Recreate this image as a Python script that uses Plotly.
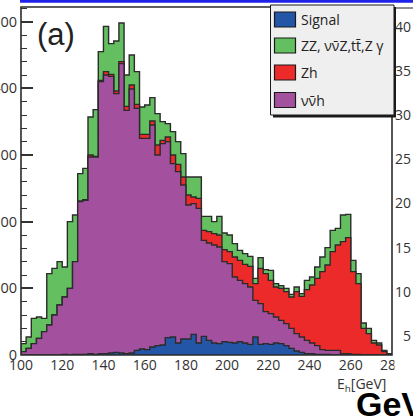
import numpy as np
import plotly.graph_objects as go

# ---------------- data (events per 2.5 GeV bin, E_h from 100 to 280 GeV) ----------------
bin_edges = np.arange(100.0, 280.0 + 1e-9, 2.5)

signal = [0, 0, 0, 0, 0, 0, 0, 0, 1, 0, 1, 1, 1, 2, 1, 2, 2, 3, 4, 3,
          2, 3, 7, 9, 8, 12, 14, 15, 26, 27, 18, 24, 24, 31, 18, 28, 22, 18, 17, 20,
          19, 18, 20, 18, 16, 27, 16, 17, 16, 18, 17, 14, 10, 6, 4, 2, 2, 1, 1, 1,
          0, 0, 0, 0, 0, 0, 0, 0, 0, 0, 0, 0]

nnh = [5, 10, 17, 25, 35, 45, 60, 75, 86, 100, 139, 229, 231, 295, 296, 408, 418, 415, 388, 434,
       365, 396, 363, 316, 317, 333, 286, 302, 294, 260, 257, 231, 201, 196, 202, 144, 146, 147, 145, 120,
       118, 99, 92, 89, 86, 55, 61, 48, 46, 39, 35, 33, 30, 26, 23, 20, 16, 13, 7, 6,
       7, 7, 2, 2, 1, 1, 0, 0, 0, 0, 0, 0]

zh = [0, 0, 0, 0, 0, 0, 0, 0, 0, 0, 0, 1, 1, 3, 1, 2, 5, 3, 4, 3,
      6, 6, 6, 6, 6, 6, 15, 5, 7, 13, 11, 12, 15, 10, 15, 15, 17, 17, 18, 18,
      18, 30, 30, 29, 31, 25, 53, 57, 50, 45, 48, 48, 47, 63, 61, 76, 87, 101, 117, 128,
      148, 158, 168, 174, 124, 106, 40, 32, 18, 15, 5, 2]

zz_other = [12, 17, 38, 32, 20, 77, 70, 65, 45, 100, 70, 41, 47, 57, 70, 43, 68, 46, 75, 58,
            47, 45, 49, 41, 44, 35, 47, 28, 20, 35, 34, 35, 27, 30, 32, 21, 23, 18, 28, 25,
            25, 20, 15, 16, 15, 8, 16, 6, 15, 5, 4, 5, 4, 7, 4, 14, 12, 17, 22, 26,
            32, 25, 40, 35, 17, 15, 8, 8, 4, 3, 2, 0]

x_tick_vals = [100, 120, 140, 160, 180, 200, 220, 240, 260, 280]
y_tick_vals = [0, 100, 200, 300, 400, 500]
right_panel_labels = ["40", "35", "30", "25", "20", "15", "10", "5"]

legend_labels = ["Signal", "ZZ, \u03bd\u03bd\u0304Z,tt\u0304,Z \u03b3", "Zh", "\u03bd\u03bd\u0304h"]

# ---------------- styling ----------------
C_SIG = "#2356a6"
C_ZZ = "#63bf60"
C_ZH = "#ec2a2a"
C_NNH = "#a3519f"
EDGE = "#2b2b2b"

W_FIG, H_FIG = 413, 419
L, R, T, B = 21, 392, 7, 355
PW, PH = R - L, B - T


def px(x):
    return (x - L) / PW


def py(y):
    return (B - y) / PH


def step_xy(vals):
    xs = np.concatenate([[bin_edges[0]], bin_edges[:-1], [bin_edges[-1]]])
    ys = np.concatenate([[0.0], np.asarray(vals, float), [0.0]])
    return xs, ys


c1 = np.asarray(signal, float)
c2 = c1 + np.asarray(nnh, float)
c3 = c2 + np.asarray(zh, float)
c4 = c3 + np.asarray(zz_other, float)

fig = go.Figure()
for cum, col in [(c4, C_ZZ), (c3, C_ZH), (c2, C_NNH), (c1, C_SIG)]:
    xs, ys = step_xy(cum)
    fig.add_trace(go.Scatter(x=xs, y=ys, mode="lines", line=dict(shape="hv", color=EDGE, width=1.4),
                             fill="tozeroy", fillcolor=col, hoverinfo="skip", showlegend=False))

font_lbl = dict(family="Open Sans", size=14, color="#333333")

fig.update_xaxes(range=[100, 280], tickvals=x_tick_vals, ticks="inside", ticklen=10, tickwidth=1.3,
                 tickcolor="#333", showgrid=False, zeroline=False, showline=False, layer="below traces",
                 tickfont=font_lbl, automargin=False,
                 minor=dict(ticks="inside", ticklen=5, dtick=5, tickcolor="#333"))
fig.update_yaxes(range=[0, 522], tickvals=y_tick_vals, ticks="inside", ticklen=12, tickwidth=1.5,
                 tickcolor="#333", showgrid=False, zeroline=False, showline=False, layer="below traces",
                 tickfont=dict(family="Open Sans", size=14.5, color="#333333"), automargin=False,
                 ticklabelstandoff=3,
                 minor=dict(ticks="inside", ticklen=6, dtick=20, tickcolor="#333", tickwidth=1.3))

shapes = []
# plot frame
shapes.append(dict(type="rect", xref="paper", yref="paper", x0=0, x1=1, y0=0, y1=1,
                   line=dict(color="#2b2b2b", width=1.6), fillcolor="rgba(0,0,0,0)", layer="above"))
# blue bar along the top of the slide
shapes.append(dict(type="rect", xref="paper", yref="paper", x0=px(20), x1=px(414), y0=py(0), y1=py(2.8),
                   line=dict(width=0), fillcolor="#1f22e8", layer="above"))
# neighbouring panel crop: white cover and its frame top
shapes.append(dict(type="rect", xref="paper", yref="paper", x0=px(394.5), x1=px(414), y0=py(380), y1=py(357),
                   line=dict(width=0), fillcolor="white", layer="above"))
shapes.append(dict(type="line", xref="paper", yref="paper", x0=px(395.5), x1=px(414), y0=py(8), y1=py(8),
                   line=dict(color="#444", width=1.2), layer="above"))
# legend box with shadow
shapes.append(dict(type="rect", xref="paper", yref="paper", x0=px(273), x1=px(396), y0=py(117.5), y1=py(7),
                   line=dict(width=0), fillcolor="#1a1a1a", layer="above"))
shapes.append(dict(type="rect", xref="paper", yref="paper", x0=px(270.5), x1=px(394), y0=py(115), y1=py(5),
                   line=dict(color="#1a1a1a", width=1), fillcolor="#efefef", layer="above"))

annotations = []
leg_cols = [C_SIG, C_ZZ, C_ZH, C_NNH]
leg_y = [19.5, 45.5, 72.5, 100]
for lab, col, yc in zip(legend_labels, leg_cols, leg_y):
    shapes.append(dict(type="rect", xref="paper", yref="paper", x0=px(274.5), x1=px(295.5),
                       y0=py(yc + 7.5), y1=py(yc - 7.5), line=dict(color="#1a1a1a", width=1.2),
                       fillcolor=col, layer="above"))
    annotations.append(dict(xref="paper", yref="paper", x=px(299), y=py(yc), text=lab, showarrow=False,
                            xanchor="left", yanchor="middle", font=dict(family="Open Sans", size=14, color="#222")))

# panel tag
annotations.append(dict(xref="paper", yref="paper", x=px(35), y=py(34), text="(a)", showarrow=False,
                        xanchor="left", yanchor="middle", font=dict(family="Liberation Sans", size=31, color="#222")))
# x-axis title
annotations.append(dict(xref="paper", yref="paper", x=px(388), y=py(384), text="E<sub>h</sub>[GeV]",
                        showarrow=False, xanchor="right", yanchor="middle", font=font_lbl))
# neighbouring panel's axis labels (cropped)
for i, lab in enumerate(right_panel_labels):
    annotations.append(dict(xref="paper", yref="paper", x=px(413), y=py(26 + 44.2 * i), text=lab,
                            showarrow=False, xanchor="right", yanchor="middle", font=font_lbl))
# slide text fragment at bottom right
annotations.append(dict(xref="paper", yref="paper", x=px(354), y=py(404), text="<b>GeV</b>", showarrow=False,
                        xanchor="left", yanchor="middle", font=dict(family="Liberation Sans", size=34, color="#000")))

fig.update_layout(width=W_FIG, height=H_FIG, autosize=False,
                  margin=dict(l=L, r=W_FIG - R, t=T, b=H_FIG - B, pad=0),
                  paper_bgcolor="white", plot_bgcolor="white",
                  shapes=shapes, annotations=annotations, showlegend=False)

fig.write_html("out.html")
